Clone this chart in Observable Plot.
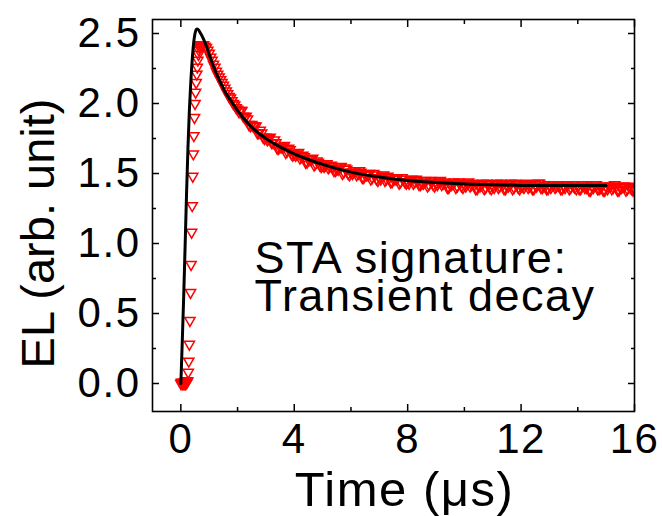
<!DOCTYPE html>
<html>
<head>
<meta charset="utf-8">
<script src="https://cdn.jsdelivr.net/npm/d3@7"></script>
<script src="https://cdn.jsdelivr.net/npm/@observablehq/plot@0.6"></script>
<style>
  html, body { margin: 0; padding: 0; background: #fff; }
  #chart { width: 662px; height: 516px; }
  #chart svg text { letter-spacing: 1.5px; }
</style>
</head>
<body>
<div id="chart"></div>
<script>
// ---- measured EL data (time in µs, EL in arb. unit) ----
const elTime = [
  0, 0.02, 0.04, 0.06, 0.08, 0.1, 0.12, 0.14, 0.16, 0.18, 0.2, 0.22,
  0.24, 0.26, 0.28, 0.3, 0.32, 0.34, 0.36, 0.38, 0.4, 0.42, 0.44, 0.46,
  0.48, 0.5, 0.52, 0.54, 0.56, 0.58, 0.6, 0.62, 0.64, 0.66, 0.68, 0.7,
  0.75, 0.8, 0.85, 0.9, 0.95, 1.0, 1.05, 1.1, 1.15, 1.2, 1.25, 1.3, 1.35,
  1.4, 1.45, 1.5, 1.55, 1.6, 1.65, 1.7, 1.75, 1.8, 1.85, 1.9, 1.95, 2.0,
  2.1, 2.2, 2.3, 2.4, 2.5, 2.6, 2.7, 2.8, 2.9, 3.0,
  3.1, 3.2, 3.3, 3.4, 3.5, 3.6, 3.7, 3.8, 3.9, 4.0,
  4.1, 4.2, 4.3, 4.4, 4.5, 4.6, 4.7, 4.8, 4.9, 5.0,
  5.1, 5.2, 5.3, 5.4, 5.5, 5.6, 5.7, 5.8, 5.9, 6.0,
  6.1, 6.2, 6.3, 6.4, 6.5, 6.6, 6.7, 6.8, 6.9, 7.0,
  7.1, 7.2, 7.3, 7.4, 7.5, 7.6, 7.7, 7.8, 7.9, 8.0,
  8.1, 8.2, 8.3, 8.4, 8.5, 8.6, 8.7, 8.8, 8.9, 9.0,
  9.1, 9.2, 9.3, 9.4, 9.5, 9.6, 9.7, 9.8, 9.9, 10.0,
  10.1, 10.2, 10.3, 10.4, 10.5, 10.6, 10.7, 10.8, 10.9, 11.0,
  11.1, 11.2, 11.3, 11.4, 11.5, 11.6, 11.7, 11.8, 11.9, 12.0,
  12.1, 12.2, 12.3, 12.4, 12.5, 12.6, 12.7, 12.8, 12.9, 13.0,
  13.1, 13.2, 13.3, 13.4, 13.5, 13.6, 13.7, 13.8, 13.9, 14.0,
  14.1, 14.2, 14.3, 14.4, 14.5, 14.6, 14.7, 14.8, 14.9, 15.0,
  15.1, 15.2, 15.3, 15.4, 15.5, 15.6, 15.7, 15.8, 15.9, 16.0
];
const elValue = [
  0, 0.01, 0, 0, 0.01, 0, 0, 0.01, 0, 0, 0.01, 0.01,
  0.02, 0.08, 0.16, 0.28, 0.45, 0.65, 0.85, 1.08, 1.27, 1.48, 1.64, 1.77,
  1.9, 2.0, 2.08, 2.15, 2.21, 2.26, 2.31, 2.35, 2.38, 2.4, 2.41, 2.42,
  2.42, 2.42, 2.41, 2.4, 2.38, 2.36, 2.33, 2.31, 2.28, 2.26, 2.23, 2.21, 2.19,
  2.17, 2.15, 2.13, 2.11, 2.09, 2.07, 2.05, 2.04, 2.02, 2.0, 1.99, 1.97, 1.96,
  1.95, 1.91, 1.91, 1.85, 1.85, 1.84, 1.79, 1.81, 1.76, 1.76,
  1.75, 1.72, 1.74, 1.68, 1.69, 1.69, 1.65, 1.68, 1.64, 1.64,
  1.64, 1.61, 1.63, 1.58, 1.60, 1.60, 1.56, 1.59, 1.56, 1.56,
  1.56, 1.54, 1.56, 1.52, 1.53, 1.54, 1.50, 1.54, 1.50, 1.51,
  1.51, 1.49, 1.52, 1.47, 1.49, 1.49, 1.46, 1.50, 1.46, 1.47,
  1.48, 1.45, 1.48, 1.44, 1.46, 1.46, 1.43, 1.47, 1.44, 1.44,
  1.45, 1.43, 1.46, 1.42, 1.43, 1.44, 1.41, 1.45, 1.42, 1.43,
  1.44, 1.42, 1.44, 1.40, 1.42, 1.43, 1.40, 1.44, 1.41, 1.42,
  1.43, 1.41, 1.43, 1.39, 1.41, 1.42, 1.39, 1.43, 1.40, 1.41,
  1.42, 1.40, 1.43, 1.39, 1.41, 1.42, 1.39, 1.43, 1.40, 1.41,
  1.40, 1.43, 1.41, 1.39, 1.42, 1.43, 1.40, 1.41, 1.39, 1.42,
  1.42, 1.40, 1.42, 1.39, 1.41, 1.42, 1.39, 1.42, 1.40, 1.41,
  1.39, 1.42, 1.40, 1.38, 1.41, 1.42, 1.39, 1.40, 1.38, 1.41,
  1.41, 1.39, 1.42, 1.38, 1.40, 1.41, 1.38, 1.41, 1.39, 1.39
];
// interleaved samples of the same measurement (between the ones above)
const elTimeMid = [
  2.05, 2.15, 2.25, 2.35, 2.45, 2.55, 2.65, 2.75, 2.85, 2.95,
  3.05, 3.15, 3.25, 3.35, 3.45, 3.55, 3.65, 3.75, 3.85, 3.95,
  4.05, 4.15, 4.25, 4.35, 4.45, 4.55, 4.65, 4.75, 4.85, 4.95,
  5.05, 5.15, 5.25, 5.35, 5.45, 5.55, 5.65, 5.75, 5.85, 5.95,
  6.05, 6.15, 6.25, 6.35, 6.45, 6.55, 6.65, 6.75, 6.85, 6.95,
  7.05, 7.15, 7.25, 7.35, 7.45, 7.55, 7.65, 7.75, 7.85, 7.95,
  8.05, 8.15, 8.25, 8.35, 8.45, 8.55, 8.65, 8.75, 8.85, 8.95,
  9.05, 9.15, 9.25, 9.35, 9.45, 9.55, 9.65, 9.75, 9.85, 9.95,
  10.05, 10.15, 10.25, 10.35, 10.45, 10.55, 10.65, 10.75, 10.85, 10.95,
  11.05, 11.15, 11.25, 11.35, 11.45, 11.55, 11.65, 11.75, 11.85, 11.95,
  12.05, 12.15, 12.25, 12.35, 12.45, 12.55, 12.65, 12.75, 12.85, 12.95,
  13.05, 13.15, 13.25, 13.35, 13.45, 13.55, 13.65, 13.75, 13.85, 13.95,
  14.05, 14.15, 14.25, 14.35, 14.45, 14.55, 14.65, 14.75, 14.85, 14.95,
  15.05, 15.15, 15.25, 15.35, 15.45, 15.55, 15.65, 15.75, 15.85, 15.95
];
const elValueMid = [
  1.94, 1.95, 1.90, 1.89, 1.84, 1.84, 1.84, 1.79, 1.79, 1.75,
  1.74, 1.76, 1.72, 1.72, 1.68, 1.69, 1.70, 1.66, 1.67, 1.63,
  1.63, 1.65, 1.62, 1.62, 1.58, 1.60, 1.61, 1.57, 1.58, 1.55,
  1.55, 1.57, 1.55, 1.55, 1.52, 1.53, 1.55, 1.51, 1.53, 1.49,
  1.50, 1.52, 1.50, 1.51, 1.47, 1.49, 1.50, 1.47, 1.49, 1.45,
  1.46, 1.49, 1.46, 1.47, 1.44, 1.46, 1.47, 1.44, 1.46, 1.43,
  1.43, 1.46, 1.44, 1.45, 1.42, 1.43, 1.45, 1.42, 1.44, 1.41,
  1.42, 1.45, 1.43, 1.43, 1.40, 1.42, 1.44, 1.41, 1.43, 1.40,
  1.41, 1.44, 1.42, 1.42, 1.39, 1.41, 1.43, 1.40, 1.42, 1.39,
  1.40, 1.43, 1.41, 1.42, 1.39, 1.41, 1.43, 1.40, 1.42, 1.39,
  1.41, 1.42, 1.40, 1.42, 1.39, 1.41, 1.43, 1.40, 1.41, 1.39,
  1.40, 1.42, 1.41, 1.41, 1.39, 1.40, 1.42, 1.40, 1.41, 1.39,
  1.39, 1.42, 1.40, 1.41, 1.38, 1.40, 1.42, 1.39, 1.41, 1.38,
  1.39, 1.41, 1.40, 1.41, 1.38, 1.40, 1.41, 1.39, 1.40, 1.38
];

// ---- fit curve ----
const fitTime = [0, 0.05, 0.1, 0.15, 0.2, 0.25, 0.3, 0.35, 0.4, 0.45, 0.5, 0.55, 0.6,
  0.7, 0.8, 0.9, 1.0, 1.2, 1.4, 1.6, 1.8, 2.0, 2.5, 3.0, 3.5, 4.0, 4.5, 5.0, 5.5,
  6.0, 7.0, 8.0, 9.0, 10, 11, 12, 13, 14, 15];
const fitValue = [0, 0.3, 0.62, 0.98, 1.35, 1.68, 1.95, 2.15, 2.31, 2.43, 2.5, 2.53, 2.53,
  2.5, 2.46, 2.41, 2.35, 2.24, 2.15, 2.07, 2.01, 1.95, 1.83, 1.75, 1.69, 1.64, 1.6, 1.565, 1.535,
  1.51, 1.475, 1.45, 1.435, 1.425, 1.42, 1.415, 1.415, 1.415, 1.415];

// ---- axes ----
const xMajorTicks = [0, 4, 8, 12, 16];
const xMinorTicks = [2, 6, 10, 14];
const yMajorTicks = [0, 0.5, 1.0, 1.5, 2.0, 2.5];
const yMinorTicks = [0.25, 0.75, 1.25, 1.75, 2.25];
const xTitle = "Time (μs)";
const yTitle = "EL (arb. unit)";

// ---- annotation ----
const noteText = ["STA signature:\nTransient decay"];
const noteX = [2.6];
const noteY = [0.98];

const elData = elTime.map((t, i) => ({t, v: elValue[i]}))
  .concat(elTimeMid.map((t, i) => ({t, v: elValueMid[i]})));
const fitData = fitTime.map((t, i) => ({t, v: fitValue[i]}));
const noteData = noteText.map((text, i) => ({text, x: noteX[i], y: noteY[i]}));

const triDown = {
  draw(context, size) {
    const s = Math.sqrt(size * 4 / Math.sqrt(3));
    const h = s * Math.sqrt(3) / 2;
    context.moveTo(-s / 2, -h / 3);
    context.lineTo(s / 2, -h / 3);
    context.lineTo(0, 2 * h / 3);
    context.closePath();
  }
};

const blank = () => "";
const fmt = d3.format(".1f");

const chart = Plot.plot({
  width: 662,
  height: 516,
  marginLeft: 152,
  marginRight: 28,
  marginTop: 19,
  marginBottom: 105,
  style: {fontFamily: "'Liberation Sans', Arial, sans-serif", color: "#000", background: "#fff", overflow: "visible"},
  x: {domain: [-1, 16]},
  y: {domain: [-0.2, 2.6]},
  marks: [
    Plot.dot(elData, {x: "t", y: "v", symbol: triDown, r: 3.8, stroke: "#ff0000", strokeWidth: 1.5, fill: "none", clip: "frame"}),
    Plot.line(fitData, {x: "t", y: "v", stroke: "#000", strokeWidth: 3, curve: "catmull-rom"}),
    Plot.frame({stroke: "#000", strokeWidth: 1.6}),
    Plot.axisX(xMajorTicks, {anchor: "bottom", tickSize: -7, tickPadding: 19, fontSize: 42, label: null, strokeWidth: 1.5}),
    Plot.axisX(xMinorTicks, {anchor: "bottom", tickSize: -4, tickFormat: blank, label: null, strokeWidth: 1.5}),
    Plot.axisX(xMajorTicks, {anchor: "top", tickSize: -7, tickFormat: blank, label: null, strokeWidth: 1.5}),
    Plot.axisX(xMinorTicks, {anchor: "top", tickSize: -4, tickFormat: blank, label: null, strokeWidth: 1.5}),
    Plot.axisY(yMajorTicks, {anchor: "left", tickSize: -7, tickPadding: 19, fontSize: 42, tickFormat: fmt, label: null, strokeWidth: 1.5}),
    Plot.axisY(yMinorTicks, {anchor: "left", tickSize: -4, tickFormat: blank, label: null, strokeWidth: 1.5}),
    Plot.axisY(yMajorTicks, {anchor: "right", tickSize: -7, tickFormat: blank, label: null, strokeWidth: 1.5}),
    Plot.axisY(yMinorTicks, {anchor: "right", tickSize: -4, tickFormat: blank, label: null, strokeWidth: 1.5}),
    Plot.text([xTitle], {frameAnchor: "bottom", dx: 11, dy: 79, fontSize: 49, lineAnchor: "middle", textAnchor: "middle"}),
    Plot.text([yTitle], {frameAnchor: "left", dx: -114, dy: 18, rotate: -90, fontSize: 47, lineAnchor: "middle", textAnchor: "middle"}),
    Plot.text(noteData, {x: "x", y: "y", text: "text", textAnchor: "start", lineAnchor: "top", fontSize: 45, lineHeight: 0.84})
  ]
});
d3.select(chart).selectAll("text").filter(function() { return this.textContent === yTitle; }).style("letter-spacing", "0px");
document.getElementById("chart").appendChild(chart);
</script>
</body>
</html>
